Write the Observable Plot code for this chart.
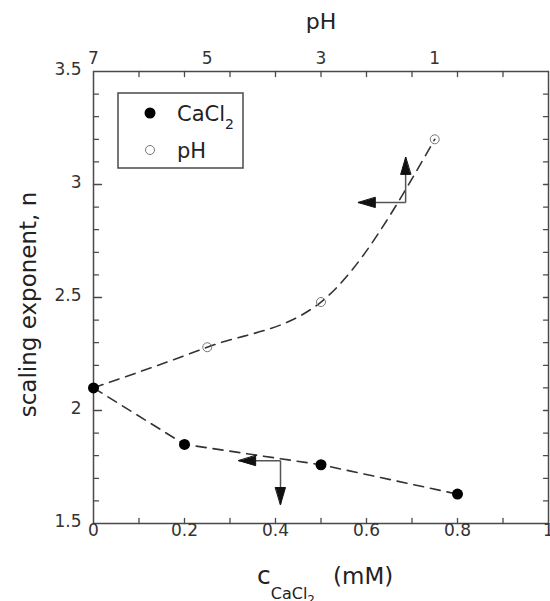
<!DOCTYPE html>
<html><head><meta charset="utf-8">
<script src="https://cdn.jsdelivr.net/npm/d3@7"></script>
<script src="https://cdn.jsdelivr.net/npm/@observablehq/plot@0.6"></script>
<style>body{margin:0;background:#fff} svg{display:block;font-family:"DejaVu Sans",sans-serif}</style>
</head><body><div id="chart"></div>
<script>
// ---- data ----
const cacl2Conc = [0, 0.2, 0.5, 0.8];
const cacl2N = [2.1, 1.85, 1.76, 1.63];
const pHValues = [7, 5, 3, 1];
const pHN = [2.1, 2.28, 2.48, 3.2];
const xTickLabels = [0, 0.2, 0.4, 0.6, 0.8, 1];
const xMinorTicks = [0.1, 0.2, 0.3, 0.4, 0.5, 0.6, 0.7, 0.8, 0.9];
const yTickLabels = [1.5, 2, 2.5, 3, 3.5];
const yMajorTicks = [2, 2.5, 3];
const yMinorTicks = [1.6, 1.7, 1.8, 1.9, 2.1, 2.2, 2.3, 2.4, 2.6, 2.7, 2.8, 2.9, 3.1, 3.2, 3.3, 3.4];
const yAllTicks = [1.6, 1.7, 1.8, 1.9, 2, 2.1, 2.2, 2.3, 2.4, 2.5, 2.6, 2.7, 2.8, 2.9, 3, 3.1, 3.2, 3.3, 3.4];
const pHTickLabels = [7, 5, 3, 1];
// annotation arrows: corner point, then tip of each arrow
const arrowCorner = [{x: 0.686, y: 2.92}, {x: 0.411, y: 1.778}];
const arrowTipX = [0.582, 0.319];   // horizontal arrows (pointing left)
const arrowTipY = [3.12, 1.584];    // vertical arrows (up for pH, down for CaCl2)
const arrowDir = [0, 180];

// pH top axis maps onto the concentration axis: pH 7 -> 0, pH 5 -> 0.25 ...
const pHToX = p => (7 - p) / 8;

const cacl2 = cacl2Conc.map((c, i) => ({x: c, y: cacl2N[i]}));
const pHData = pHValues.map((p, i) => ({x: pHToX(p), y: pHN[i]}));

const hShafts = arrowCorner.map((c, i) => ({x1: c.x, y1: c.y, x2: arrowTipX[i], y2: c.y}));
const vShafts = arrowCorner.map((c, i) => ({x1: c.x, y1: c.y, x2: c.x, y2: arrowTipY[i]}));
const heads = [
  ...arrowCorner.map((c, i) => ({x: arrowTipX[i], y: c.y, r: -90})),
  ...arrowCorner.map((c, i) => ({x: c.x, y: arrowTipY[i], r: arrowDir[i]}))
];

const lineShape = {draw(ctx, l) { ctx.moveTo(0, 0); ctx.lineTo(0, -l); }};
const headShape = {draw(ctx, l) { ctx.moveTo(0, -l); ctx.lineTo(-5, 0); ctx.lineTo(5, 0); ctx.closePath(); }};

const axisColor = "#4a4a4a";
const tick = (data, opts) => Plot.vector(data, {anchor: "start", shape: lineShape, stroke: axisColor, strokeWidth: 1.3, ...opts});

const svg = Plot.plot({
  width: 550, height: 601,
  marginLeft: 93, marginRight: 2, marginTop: 71, marginBottom: 78,
  x: {domain: [0, 1], axis: null},
  y: {domain: [1.5, 3.5], axis: null},
  style: {fontFamily: "DejaVu Sans, sans-serif", color: "#222", overflow: "visible"},
  marks: [
    // ticks
    tick(yMinorTicks, {y: d => d, frameAnchor: "left", rotate: 90, length: 5}),
    tick(yMajorTicks, {y: d => d, frameAnchor: "left", rotate: 90, length: 8}),
    tick(yAllTicks, {y: d => d, frameAnchor: "right", rotate: -90, length: 5}),
    tick(xMinorTicks, {x: d => d, frameAnchor: "bottom", rotate: 0, length: 5}),
    tick(xMinorTicks, {x: d => d, frameAnchor: "top", rotate: 180, length: 5}),
    Plot.frame({stroke: axisColor, strokeWidth: 1.5}),
    // tick labels
    Plot.text(yTickLabels, {y: d => d, frameAnchor: "left", dx: -12, dy: -2, textAnchor: "end", text: d => String(d), fontSize: 17, fill: "#333"}),
    Plot.text(xTickLabels, {x: d => d, frameAnchor: "bottom", dy: 12, text: d => String(d), fontSize: 17, fill: "#333"}),
    Plot.text(pHTickLabels, {x: p => pHToX(p), frameAnchor: "top", dy: -20, text: d => String(d), fontSize: 17, fill: "#333"}),
    Plot.text(["pH"], {frameAnchor: "top", dy: -58, fontSize: 22, fill: "#222"}),
    Plot.text(["scaling exponent, n"], {frameAnchor: "left", dx: -65, dy: 7, rotate: -90, textAnchor: "middle", fontSize: 23, fill: "#222"}),
    // dashed curves
    Plot.line(pHData, {x: "x", y: "y", curve: "monotone-x", stroke: "#333", strokeWidth: 1.6, strokeDasharray: "10,7"}),
    Plot.line(cacl2, {x: "x", y: "y", stroke: "#333", strokeWidth: 1.6, strokeDasharray: "10,7"}),
    // arrows
    Plot.link(hShafts, {x1: "x1", y1: "y1", x2: "x2", y2: "y2", stroke: "#555", strokeWidth: 1.5}),
    Plot.link(vShafts, {x1: "x1", y1: "y1", x2: "x2", y2: "y2", stroke: "#555", strokeWidth: 1.5}),
    Plot.vector(heads, {x: "x", y: "y", rotate: "r", length: 17, anchor: "end", shape: headShape, fill: "#111", stroke: "#111", strokeWidth: 1}),
    // points
    Plot.dot(pHData.slice(1), {x: "x", y: "y", r: 4.5, fill: "none", stroke: "#777", strokeWidth: 1}),
    Plot.dot(cacl2, {x: "x", y: "y", r: 5.5, fill: "#000", stroke: "none"})
  ]
});

const s = d3.select(svg);
// x-axis title with subscript
const xt = s.append("text").attr("x", 257).attr("y", 584).attr("fill", "#222").attr("text-anchor", "start");
xt.append("tspan").attr("font-size", 25).text("c");
xt.append("tspan").attr("font-size", 16).attr("dy", 15).text("CaCl");
xt.append("tspan").attr("font-size", 12).attr("dy", 5).text("2");
xt.append("tspan").attr("font-size", 23).attr("dy", -20).attr("x", 333).text("(mM)");

// legend
const lg = s.append("g").attr("text-anchor", "start");
lg.append("rect").attr("x", 118).attr("y", 93).attr("width", 125).attr("height", 75)
  .attr("fill", "white").attr("stroke", axisColor).attr("stroke-width", 1.5);
lg.append("circle").attr("cx", 150).attr("cy", 113).attr("r", 5.5).attr("fill", "#000");
lg.append("circle").attr("cx", 150).attr("cy", 150).attr("r", 4.5).attr("fill", "none").attr("stroke", "#777");
const l1 = lg.append("text").attr("x", 177).attr("y", 121).attr("font-size", 21).attr("fill", "#222");
l1.append("tspan").text("CaCl");
l1.append("tspan").attr("font-size", 14).attr("dy", 8).text("2");
lg.append("text").attr("x", 177).attr("y", 158).attr("font-size", 21).attr("fill", "#222").text("pH");

document.getElementById("chart").appendChild(svg);
</script>
</body></html>
